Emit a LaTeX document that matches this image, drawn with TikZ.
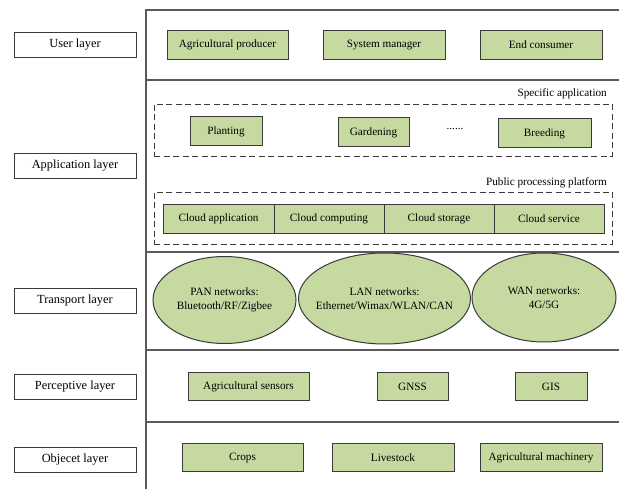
\documentclass[tikz,border=0pt]{standalone}
\usepackage{fontspec}
\setmainfont{Liberation Serif}
\usetikzlibrary{shapes.geometric}
\definecolor{boxgreen}{HTML}{C6D9A0}
\definecolor{edgegray}{HTML}{3A3A3A}
\definecolor{framegray}{HTML}{5A5A5A}
\tikzset{
  layerbox/.style={draw=edgegray, line width=0.9pt, fill=white, rectangle, minimum width=122pt, minimum height=25pt, inner sep=0pt, font=\fontsize{12.4}{14}\selectfont},
  greenbox/.style={draw=edgegray, line width=1pt, fill=boxgreen, rectangle, minimum height=28.5pt, inner sep=0pt, font=\fontsize{11.2}{13}\selectfont},
  netell/.style={draw=edgegray, line width=1pt, fill=boxgreen, ellipse, inner sep=0pt},
  nettext/.style={inner sep=0pt, align=center, font=\fontsize{11.2}{13.5}\selectfont},
  dashbox/.style={draw=edgegray, line width=0.9pt, dash pattern=on 6pt off 3.5pt, rectangle, inner sep=0pt},
  frameline/.style={draw=framegray, line width=1.4pt},
  grouplabel/.style={anchor=east, inner sep=0pt, font=\fontsize{11.2}{13}\selectfont}
}
\begin{document}
\begin{tikzpicture}[x=1pt,y=-1pt]
\useasboundingbox (0,0) rectangle (619,489);
% frame
\coordinate (ftop) at (146,10);
\coordinate (fbot) at (146,489);
\coordinate (r0) at (619,10);
\coordinate (l1) at (146,80);   \coordinate (r1) at (619,80);
\coordinate (l2) at (146,252);  \coordinate (r2) at (619,252);
\coordinate (l3) at (146,350);  \coordinate (r3) at (619,350);
\coordinate (l4) at (146,422);  \coordinate (r4) at (619,422);
\draw[frameline] (fbot) -- (ftop) -- (r0);
\draw[frameline] (l1) -- (r1);
\draw[frameline] (l2) -- (r2);
\draw[frameline] (l3) -- (r3);
\draw[frameline] (l4) -- (r4);
% left layer labels
\node[layerbox] (user) at (75,45) {User layer};
\node[layerbox] (app) at (75,166) {Application layer};
\node[layerbox] (trans) at (75,300.5) {Transport layer};
\node[layerbox] (perc) at (75,386.5) {Perceptive layer};
\node[layerbox] (obj) at (75,459.5) {Objecet layer};
% user layer
\node[greenbox, minimum width=121pt] (producer) at (227.5,45) {Agricultural producer};
\node[greenbox, minimum width=122pt] (manager) at (384,45) {System manager};
\node[greenbox, minimum width=122pt] (consumer) at (541,45) {End consumer};
% application layer
\node[dashbox, minimum width=458pt, minimum height=52pt] (specific) at (383,130) {};
\node[grouplabel] (speclabel) at (607,94) {Specific application};
\node[greenbox, minimum width=72pt, minimum height=29pt] (planting) at (226,131.5) {Planting};
\node[greenbox, minimum width=71pt, minimum height=29pt] (gardening) at (373.5,132.5) {Gardening};
\node[inner sep=0pt, font=\fontsize{11.2}{13}\selectfont] (dots) at (455,129) {......};
\node[greenbox, minimum width=93pt, minimum height=29pt] (breeding) at (544.5,133.5) {Breeding};
\node[dashbox, minimum width=458pt, minimum height=52pt] (public) at (383,218) {};
\node[grouplabel] (publabel) at (607,183) {Public processing platform};
\node[greenbox, minimum width=111pt] (capp) at (218.5,219) {Cloud application};
\node[greenbox, minimum width=110pt] (ccomp) at (329,219) {Cloud computing};
\node[greenbox, minimum width=110pt] (cstor) at (439,219) {Cloud storage};
\node[greenbox, minimum width=110pt] (cserv) at (549,219) {Cloud service};
% transport layer
\node[netell, minimum width=143pt, minimum height=87pt] (pan) at (224.5,300) {};
\node[nettext] (pantext) at (pan.center) {PAN networks:\\Bluetooth/RF/Zigbee};
\node[netell, minimum width=172pt, minimum height=91pt] (lan) at (384.5,298.5) {};
\node[nettext] (lantext) at (lan.center) {LAN networks:\\Ethernet/Wimax/WLAN/CAN};
\node[netell, minimum width=144pt, minimum height=89pt] (wan) at (544,297.5) {};
\node[nettext] (wantext) at (wan.center) {WAN networks:\\4G/5G};
% perceptive layer
\node[greenbox, minimum width=121pt] (sensors) at (248.5,386.5) {Agricultural sensors};
\node[greenbox, minimum width=71pt] (gnss) at (412.5,386.5) {GNSS};
\node[greenbox, minimum width=72pt] (gis) at (551,386.5) {GIS};
% object layer
\node[greenbox, minimum width=121pt] (crops) at (242.5,457.5) {Crops};
\node[greenbox, minimum width=122pt] (livestock) at (393,457.5) {Livestock};
\node[greenbox, minimum width=122pt] (machinery) at (541,457.5) {Agricultural machinery};
\end{tikzpicture}
\end{document}
